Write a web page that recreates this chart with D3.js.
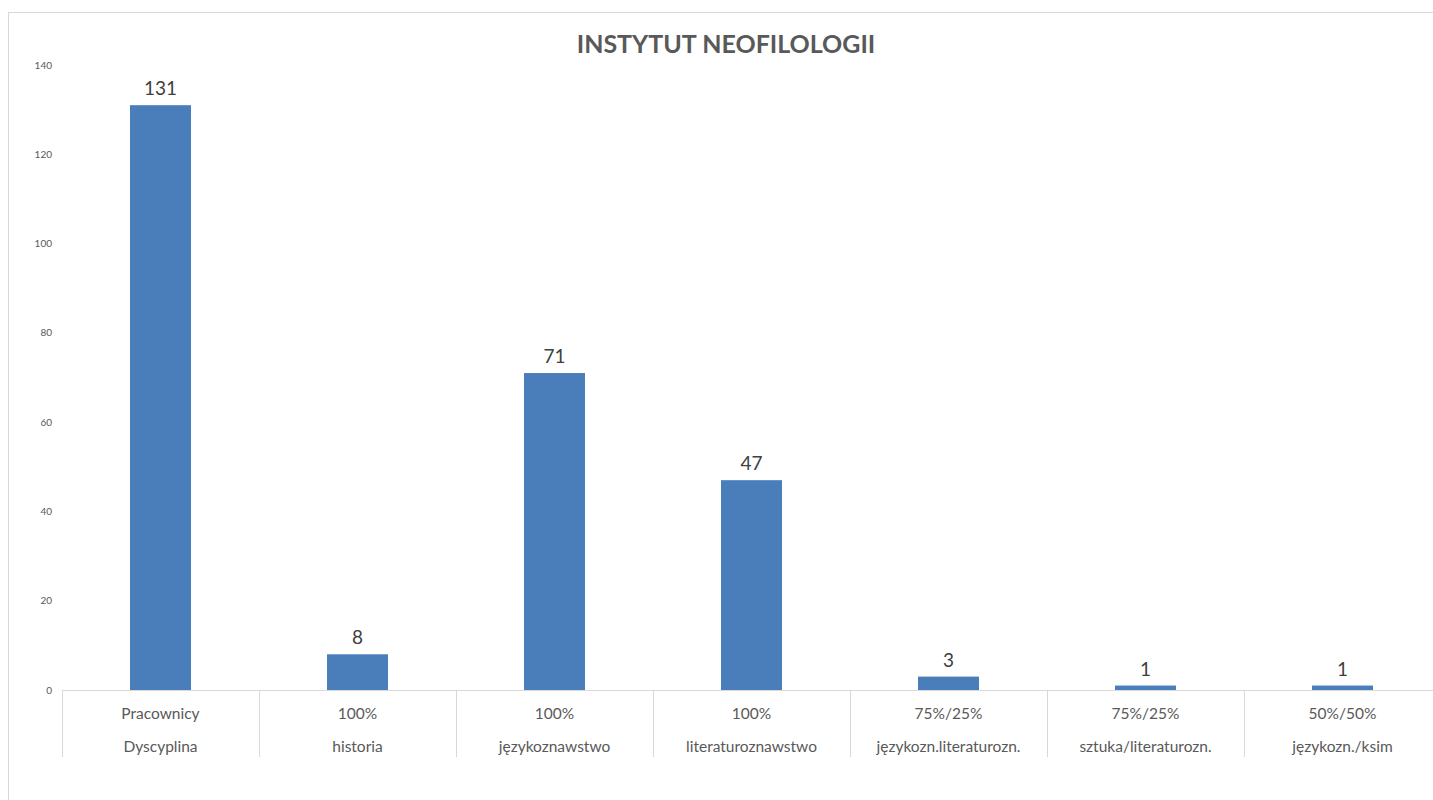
<!DOCTYPE html>
<html>
<head>
<meta charset="utf-8">
<script src="https://cdn.jsdelivr.net/npm/d3@7"></script>
<style>
  body { margin: 0; background: #fff; }
  svg { display: block; }
</style>
</head>
<body>
<svg width="1433" height="800"></svg>
<script>
(function () {
  'use strict';

  const chartTitle = "INSTYTUT NEOFILOLOGII";
  const topLabels = ["Pracownicy", "100%", "100%", "100%", "75%/25%", "75%/25%", "50%/50%"];
  const bottomLabels = ["Dyscyplina", "historia", "językoznawstwo", "literaturoznawstwo",
    "językozn.literaturozn.", "sztuka/literaturozn.", "językozn./ksim"];
  const values = [131, 8, 71, 47, 3, 1, 1];
  const yTicks = [0, 20, 40, 60, 80, 100, 120, 140];

  const svg = d3.select("svg");
  const font = "Lato, 'Open Sans', sans-serif";

  // outer frame
  svg.append("rect")
    .attr("x", 8.5).attr("y", 12.5)
    .attr("width", 1500).attr("height", 900)
    .attr("fill", "none").attr("stroke", "#d9d9d9");

  const x = d3.scaleBand().domain(d3.range(values.length)).range([62, 1441]).paddingInner(0).paddingOuter(0);
  const y = d3.scaleLinear().domain([0, 140]).range([690, 65]);
  const barW = 61;

  svg.append("text")
    .attr("x", 726).attr("y", 53)
    .attr("text-anchor", "middle")
    .style("font-family", font).style("font-weight", "bold")
    .style("font-size", "25px").style("fill", "#595959")
    .text(chartTitle);

  // y tick labels
  svg.selectAll(".ytick").data(yTicks).enter().append("text")
    .attr("class", "ytick")
    .attr("x", 52).attr("y", d => y(d) + 3.5)
    .attr("text-anchor", "end")
    .style("font-family", font).style("font-size", "10px").style("fill", "#595959")
    .text(d => d);

  // bars
  svg.selectAll(".bar").data(values).enter().append("rect")
    .attr("class", "bar")
    .attr("x", (d, i) => x(i) + x.bandwidth() / 2 - barW / 2)
    .attr("y", d => y(d))
    .attr("width", barW)
    .attr("height", d => y(0) - y(d))
    .attr("fill", "#4a7ebb");

  // value labels
  svg.selectAll(".val").data(values).enter().append("text")
    .attr("class", "val")
    .attr("x", (d, i) => x(i) + x.bandwidth() / 2)
    .attr("y", d => y(d) - 10)
    .attr("text-anchor", "middle")
    .style("font-family", font).style("font-size", "19px").style("fill", "#404040")
    .text(d => d);

  // x axis line
  svg.append("line")
    .attr("x1", 62).attr("x2", 1441)
    .attr("y1", y(0) + 0.5).attr("y2", y(0) + 0.5)
    .attr("stroke", "#d9d9d9");

  // category dividers
  const edges = d3.range(values.length + 1).map(i => i < values.length ? x(i) : x(values.length - 1) + x.bandwidth());
  svg.selectAll(".div").data(edges).enter().append("line")
    .attr("class", "div")
    .attr("x1", d => Math.round(d) + 0.5).attr("x2", d => Math.round(d) + 0.5)
    .attr("y1", y(0)).attr("y2", 757)
    .attr("stroke", "#d9d9d9");

  svg.selectAll(".lab1").data(topLabels).enter().append("text")
    .attr("class", "lab1")
    .attr("x", (d, i) => x(i) + x.bandwidth() / 2).attr("y", 719)
    .attr("text-anchor", "middle")
    .style("font-family", font).style("font-size", "15.5px").style("fill", "#595959")
    .text(d => d);

  svg.selectAll(".lab2").data(bottomLabels).enter().append("text")
    .attr("class", "lab2")
    .attr("x", (d, i) => x(i) + x.bandwidth() / 2).attr("y", 752)
    .attr("text-anchor", "middle")
    .style("font-family", font).style("font-size", "15.5px").style("fill", "#595959")
    .text(d => d);
}());
</script>
</body>
</html>
